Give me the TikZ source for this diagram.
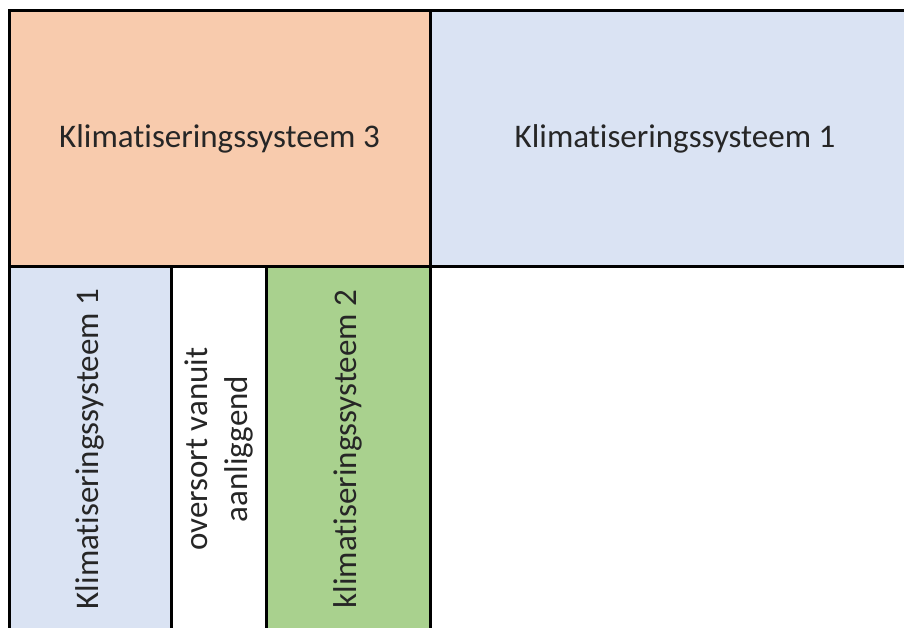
\documentclass[tikz,border=0pt]{standalone}
\usepackage{fontspec}
\setmainfont[Ligatures=NoCommon]{Carlito}
\usetikzlibrary{calc}
\definecolor{zalm}{HTML}{F8CBAD}
\definecolor{lichtblauw}{HTML}{DAE3F3}
\definecolor{lichtgroen}{HTML}{A9D18E}
\def\vak{\node[draw=black,line width=3pt,outer sep=0pt,inner sep=0pt,anchor=north west]}
\def\tekst{\node[align=center,inner sep=0pt,text=black!85]}

\begin{document}
\begin{tikzpicture}[x=1pt,y=-1pt,font=\fontsize{33}{40}\selectfont]
\useasboundingbox (0,0) rectangle (904,628);
\coordinate (lt) at (9,11); % top left corner of the whole plan
\coordinate (mid) at ($ (lt) + (0,255) $); % top of the lower row

% -------- top row ---------
\vak[fill=zalm,minimum width=421pt,minimum height=255pt] (sys3) at (lt) {};
\vak[fill=lichtblauw,minimum width=490pt,minimum height=255pt] (sys1) at ($ (lt) + (421,0) $) {};
% ------ lower row (runs past the bottom edge) ------
\vak[fill=lichtblauw,minimum width=162pt,minimum height=366pt] (kol1) at (mid) {};
\vak[fill=white,minimum width=95pt,minimum height=366pt] (kol2) at ($ (mid) + (162,0) $) {};
\vak[fill=lichtgroen,minimum width=164pt,minimum height=366pt] (kol3) at ($ (mid) + (257,0) $) {};

\tekst (t3) at (sys3.center) {Klimatiseringssysteem 3};
\tekst (t1) at (sys1.center) {Klimatiseringssysteem 1};
\tekst[rotate=90] (k1) at (kol1.center) {Klimatiseringssysteem 1};
\tekst[rotate=90] (k2) at (kol2.center) {oversort vanuit\\aanliggend};
\tekst[rotate=90] (k3) at (kol3.center) {klimatiseringssysteem 2};
\end{tikzpicture}
\end{document}
